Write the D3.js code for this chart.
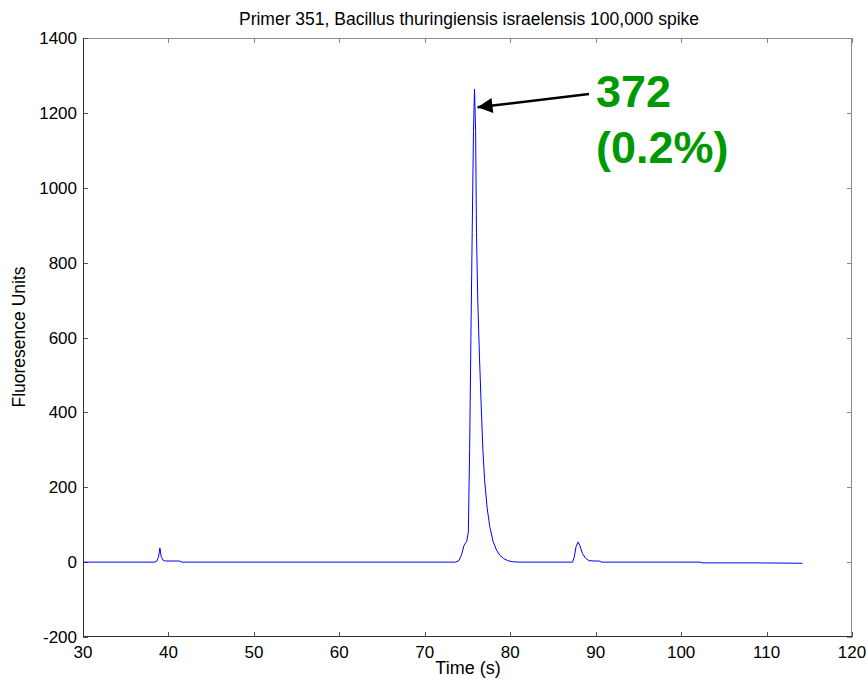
<!DOCTYPE html>
<html>
<head>
<meta charset="utf-8">
<script src="https://cdn.jsdelivr.net/npm/d3@7"></script>
<style>
  body { margin: 0; background: #fff; }
  svg { display: block; font-family: Arial, "Liberation Sans", sans-serif; }
</style>
</head>
<body>
<script>
// trace (time in s, fluorescence units)
var timeS = [30, 38.4, 38.65, 38.85, 39.0, 39.15, 39.4, 39.7, 41.3, 41.6,
  73.6, 74.0, 74.3, 74.6, 74.9, 75.1, 75.25, 75.4, 75.55, 75.7, 75.82, 75.95, 76.05, 76.2, 76.4,
  76.6, 76.8, 77.0, 77.3, 77.6, 78.0, 78.4, 78.8, 79.2, 79.7, 80.3, 81,
  87.3, 87.5, 87.7, 87.95, 88.15, 88.45, 88.8, 89.2, 89.8, 90.4, 90.7,
  102.2, 102.5, 105, 108.5, 114.2];
var fluor = [0, 0, 3, 15, 38, 15, 4, 3, 3, 0,
  0, 4, 20, 45, 55, 80, 300, 600, 880, 1150, 1263, 1150, 880, 700, 550,
  420, 300, 220, 145, 95, 55, 32, 18, 10, 4, 1, 0,
  0, 14, 41, 54, 44, 23, 11, 4, 3, 3, 0,
  0, -2, -2, -2, -3];

var xTicks = [30, 40, 50, 60, 70, 80, 90, 100, 110, 120];
var yTicks = [-200, 0, 200, 400, 600, 800, 1000, 1200, 1400];

var title = "Primer 351, Bacillus thuringiensis israelensis 100,000 spike";
var peakLabel = ["372", "(0.2%)"];
var peakAt = [75.82, 1263];

var W = 867, H = 684;
var pL = 83, pR = 852, pT = 38, pB = 637;

var svg = d3.select("body").append("svg")
  .attr("width", W).attr("height", H);

var x = d3.scaleLinear().domain([30, 120]).range([pL, pR]);
var y = d3.scaleLinear().domain([-200, 1400]).range([pB, pT]);

// box, top/right lighter like the matlab export
svg.append("line").attr("x1", pL).attr("x2", pR).attr("y1", pT + 0.5).attr("y2", pT + 0.5)
  .attr("stroke", "#8a8a8a");
svg.append("line").attr("x1", pR - 0.5).attr("x2", pR - 0.5).attr("y1", pT).attr("y2", pB)
  .attr("stroke", "#8a8a8a");

// ticks inside
var tl = 5;
svg.append("g").selectAll("line").data(xTicks).enter().append("line")
  .attr("x1", function(d) { return Math.round(x(d)) + 0.5; })
  .attr("x2", function(d) { return Math.round(x(d)) + 0.5; })
  .attr("y1", pB).attr("y2", pB - tl)
  .attr("stroke", "#555");
svg.append("g").selectAll("line").data(xTicks).enter().append("line")
  .attr("x1", function(d) { return Math.round(x(d)) + 0.5; })
  .attr("x2", function(d) { return Math.round(x(d)) + 0.5; })
  .attr("y1", pT).attr("y2", pT + tl)
  .attr("stroke", "#888");
svg.append("g").selectAll("line").data(yTicks).enter().append("line")
  .attr("y1", function(d) { return Math.round(y(d)) + 0.5; })
  .attr("y2", function(d) { return Math.round(y(d)) + 0.5; })
  .attr("x1", pL).attr("x2", pL + tl)
  .attr("stroke", "#555");
svg.append("g").selectAll("line").data(yTicks).enter().append("line")
  .attr("y1", function(d) { return Math.round(y(d)) + 0.5; })
  .attr("y2", function(d) { return Math.round(y(d)) + 0.5; })
  .attr("x1", pR).attr("x2", pR - tl)
  .attr("stroke", "#888");

svg.append("line").attr("x1", pL).attr("x2", pR).attr("y1", pB - 0.5).attr("y2", pB - 0.5)
  .attr("stroke", "#333");
svg.append("line").attr("x1", pL + 0.5).attr("x2", pL + 0.5).attr("y1", pT).attr("y2", pB)
  .attr("stroke", "#333");

// tick labels
svg.append("g").selectAll("text").data(xTicks).enter().append("text")
  .attr("x", function(d) { return x(d); })
  .attr("y", 658)
  .attr("text-anchor", "middle")
  .attr("font-size", 17)
  .text(function(d) { return d; });
svg.append("g").selectAll("text").data(yTicks).enter().append("text")
  .attr("x", 77)
  .attr("y", function(d) { return y(d) + 6; })
  .attr("text-anchor", "end")
  .attr("font-size", 17)
  .text(function(d) { return d; });

// labels
svg.append("text").attr("x", 469).attr("y", 25).attr("text-anchor", "middle")
  .attr("font-size", 17.5).text(title);
svg.append("text").attr("x", 468).attr("y", 674).attr("text-anchor", "middle")
  .attr("font-size", 18).text("Time (s)");
svg.append("text").attr("transform", "translate(25,337) rotate(-90)")
  .attr("text-anchor", "middle").attr("font-size", 17.5).text("Fluoresence Units");

// trace
var line = d3.line()
  .x(function(d, i) { return x(timeS[i]); })
  .y(function(d) { return y(d); });
svg.append("path").datum(fluor)
  .attr("d", line)
  .attr("fill", "none")
  .attr("stroke", "#0000ff")
  .attr("stroke-width", 1);

// annotation arrow
svg.append("defs").append("marker")
  .attr("id", "head")
  .attr("viewBox", "0 0 10 10")
  .attr("refX", 10).attr("refY", 5)
  .attr("markerWidth", 7).attr("markerHeight", 6)
  .attr("markerUnits", "strokeWidth")
  .attr("orient", "auto")
  .append("path").attr("d", "M0,0 L10,5 L0,10 Z").attr("fill", "#000");

svg.append("line")
  .attr("x1", 589).attr("y1", 94)
  .attr("x2", x(peakAt[0]) + 3).attr("y2", y(peakAt[1]) + 18)
  .attr("stroke", "#000").attr("stroke-width", 2.5)
  .attr("marker-end", "url(#head)");

svg.append("text").attr("x", 596).attr("y", 107)
  .attr("font-size", 45).attr("font-weight", "bold").attr("fill", "#009900")
  .text(peakLabel[0]);
svg.append("text").attr("x", 596).attr("y", 163)
  .attr("font-size", 45).attr("font-weight", "bold").attr("fill", "#009900")
  .text(peakLabel[1]);
</script>
</body>
</html>
